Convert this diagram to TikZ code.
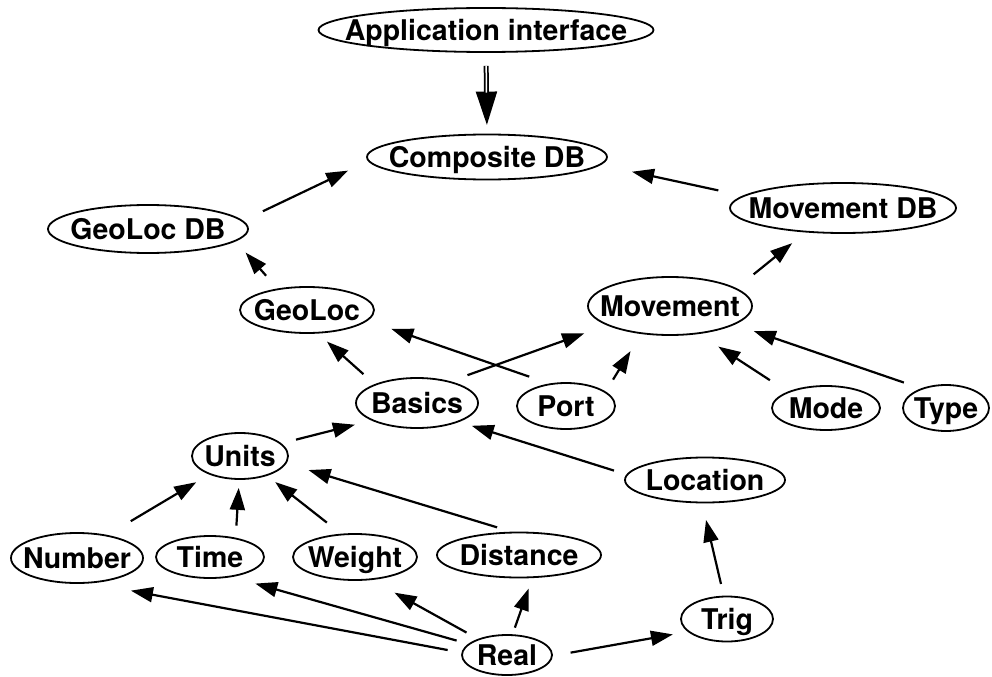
\documentclass[tikz,border=0pt]{standalone}
\usepackage{fontspec}
\setmainfont{TeX Gyre Heros}
\usetikzlibrary{shapes.geometric, arrows.meta}
\tikzset{
  mod/.style={ellipse, draw, line width=1.8bp, inner sep=0pt,
    font=\fontsize{28.5bp}{30bp}\selectfont\bfseries,
    text height=20.5bp, text depth=0pt,
    execute at begin node={\hbox to 0pt\bgroup\hss},
    execute at end node={\hss\egroup}},
  dep/.style={line width=2.2bp, -{Triangle[length=22bp,width=15bp]}}
}

\begin{document}
\begin{tikzpicture}[x=1bp, y=-1bp]
  \useasboundingbox (0,0) rectangle (992,677);

  % databases on top
  \node[mod, minimum width=335bp, minimum height=44bp] (app) at (486,30) {Application interface};
  \node[mod, minimum width=240bp, minimum height=45bp] (comp) at (487,157) {Composite DB};
  \node[mod, minimum width=200bp, minimum height=48bp] (gdb) at (148,229) {GeoLoc DB};
  \node[mod, minimum width=226bp, minimum height=50bp] (mdb) at (843,208) {Movement DB};

  % modules
  \node[mod, minimum width=134bp, minimum height=46bp] (geo) at (307,310) {GeoLoc};
  \node[mod, minimum width=164bp, minimum height=58bp] (mov) at (670,306) {Movement};
  \node[mod, minimum width=122bp, minimum height=50bp] (basics) at (417,403) {Basics};
  \node[mod, minimum width=98bp, minimum height=46bp] (port) at (566,406) {Port};
  \node[mod, minimum width=108bp, minimum height=44bp] (mode) at (826,408) {Mode};
  \node[mod, minimum width=86bp, minimum height=46bp] (type) at (946,408) {Type};
  \node[mod, minimum width=96bp, minimum height=46bp] (units) at (240,456) {Units};
  \node[mod, minimum width=160bp, minimum height=45bp] (loc) at (705,480) {Location};

  % basic types
  \node[mod, minimum width=132bp, minimum height=50bp] (number) at (77,558) {Number};
  \node[mod, minimum width=108bp, minimum height=42bp] (time) at (210,557) {Time};
  \node[mod, minimum width=124bp, minimum height=46bp] (weight) at (355,557) {Weight};
  \node[mod, minimum width=164bp, minimum height=45bp] (dist) at (519,555) {Distance};
  \node[mod, minimum width=92bp, minimum height=45bp] (trig) at (727,619) {Trig};
  \node[mod, minimum width=90bp, minimum height=40bp] (real) at (507,655) {Real};

  % double arrow from the interface
  \draw[line width=5bp, -{Triangle[length=34bp,width=20bp]}, shorten <=13bp, shorten >=8bp] (app.south) -- (comp.north);
  \draw[white, line width=1.5bp, shorten <=13bp, shorten >=41bp] (app.south) -- (comp.north);

  \foreach \from/\a/\to/\b/\s/\e in {
    gdb/5/comp/182/22/22, mdb/173/comp/356/25/32,
    geo/144/gdb/352/17/15, basics/156/geo/295/15/12,
    port/127/geo/350/21/25, basics/33/mov/197/18/24,
    units/17/basics/201/15/17, mov/15/mdb/213/22/17,
    port/20/mov/224/14/20, mode/157/mov/316/21/23,
    type/142/mov/344/18/20, number/37/units/211/27/15,
    time/37/units/268/12/8, weight/121/units/324/18/10,
    dist/108/units/351/15/23, loc/176/basics/336/13/13,
    real/177/number/300/14/40, real/164/time/318/12/24,
    real/151/weight/306/13/26, real/75/dist/300/7/11,
    real/359/trig/198/18/15, trig/98/loc/263/12/17}
    \draw[dep, shorten <=\s bp, shorten >=\e bp] (\from.\a) -- (\to.\b);
\end{tikzpicture}
\end{document}
